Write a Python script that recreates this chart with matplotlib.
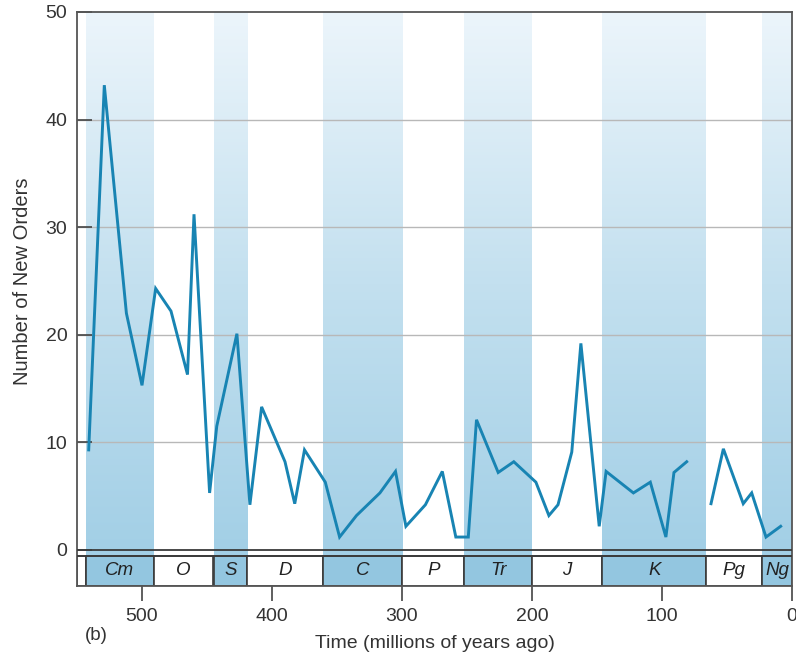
import numpy as np
import matplotlib.pyplot as plt
from matplotlib.colors import LinearSegmentedColormap
from matplotlib.patches import Rectangle

plt.rcParams['font.family'] = ['Liberation Sans', 'DejaVu Sans']

# age (Ma) and number of new orders; nan = gap in the record
AGE = [541, 529, 512, 500, 489.5, 477.7, 465, 460, 448, 442.5, 427, 417, 408,
       390, 382.5, 375, 359, 348, 335, 317, 305, 297, 282, 269, 258.6, 249,
       242.7, 226, 214, 197, 187, 180, 169.4, 162.4, 148.3, 143, 122, 109, 97,
       90.8, 81, np.nan, 62.3, 52.8, 37.5, 31, 20, 8.7]
ORDERS = [9.3, 43.2, 22.0, 15.3, 24.3, 22.2, 16.3, 31.2, 5.3, 11.5, 20.1, 4.2,
          13.3, 8.2, 4.3, 9.3, 6.3, 1.2, 3.2, 5.3, 7.3, 2.2, 4.2, 7.3, 1.2, 1.2,
          12.1, 7.2, 8.2, 6.3, 3.2, 4.2, 9.1, 19.2, 2.2, 7.3, 5.3, 6.3, 1.2,
          7.2, 8.2, np.nan, 4.3, 9.4, 4.3, 5.3, 1.2, 2.2]

PERIODS = ['Cm', 'O', 'S', 'D', 'C', 'P', 'Tr', 'J', 'K', 'Pg', 'Ng']
BOUNDS  = [543, 491, 445, 419, 361, 300, 252, 200, 146, 66, 23, 0]
SHADED  = {'Cm', 'S', 'C', 'Tr', 'K', 'Ng'}

X_OLD     = 550
STRIP_TOP = -0.56
STRIP_BOT = -3.35

LINE_COL  = '#1884b3'
CELL_COL  = '#93c6e0'
EDGE_COL  = '#3a3a3a'

band_cmap = LinearSegmentedColormap.from_list(
    'band', ['#a2cfe6', '#c3e0ef', '#ecf5fb'])
grad = np.linspace(0, 1, 256).reshape(-1, 1)

fig = plt.figure(figsize=(7.96, 6.56), dpi=100)
ax = fig.add_axes([77 / 796, 1 - 586 / 656, 715 / 796, 574 / 656])

# shaded period bands with a vertical fade
for name, old, young in zip(PERIODS, BOUNDS[:-1], BOUNDS[1:]):
    if name in SHADED:
        ax.imshow(grad, extent=(old, young, STRIP_TOP, 50), cmap=band_cmap,
                  aspect='auto', origin='lower', interpolation='bilinear',
                  zorder=0)

ax.set_xlim(X_OLD, 0)
ax.set_ylim(STRIP_BOT, 50)

for v in [10, 20, 30, 40]:
    ax.axhline(v, color='#b8b8b8', lw=1.0, zorder=1)
ax.axhline(0, color=EDGE_COL, lw=1.3, zorder=3)
ax.axhline(STRIP_TOP, color=EDGE_COL, lw=1.3, zorder=3)

# timescale strip
ax.add_patch(Rectangle((X_OLD, STRIP_BOT), BOUNDS[0] - X_OLD, STRIP_TOP - STRIP_BOT,
                       facecolor='white', edgecolor=EDGE_COL, lw=1.2, zorder=2))
for name, old, young in zip(PERIODS, BOUNDS[:-1], BOUNDS[1:]):
    fc = CELL_COL if name in SHADED else 'white'
    ax.add_patch(Rectangle((old, STRIP_BOT), young - old, STRIP_TOP - STRIP_BOT,
                           facecolor=fc, edgecolor=EDGE_COL, lw=1.2, zorder=2))
    ax.text((old + young) / 2, (STRIP_TOP + STRIP_BOT) / 2, name,
            ha='center', va='center', style='italic', fontsize=13.5,
            color='#222222', zorder=4)

ax.plot(AGE, ORDERS, color=LINE_COL, lw=2.1, zorder=5,
        solid_joinstyle='miter')

ax.set_yticks([0, 10, 20, 30, 40, 50])
ax.set_xticks([500, 400, 300, 200, 100, 0])
ax.tick_params(axis='y', direction='in', length=11, width=1.2, color='#444444',
               pad=7, labelsize=14, labelcolor='#333333')
ax.tick_params(axis='x', direction='out', length=11, width=1.2, color='#444444',
               pad=5, labelsize=14, labelcolor='#333333')

for sp in ax.spines.values():
    sp.set_color('#555555')
    sp.set_linewidth(1.3)

# y label centred on the 0-50 data area, not on the strip
ax.set_ylabel('Number of New Orders', fontsize=14.5, color='#333333')
ax.yaxis.set_label_coords(-0.063, (25 - STRIP_BOT) / (50 - STRIP_BOT))
ax.set_xlabel('Time (millions of years ago)', fontsize=14, color='#333333',
              labelpad=7)
fig.text(85 / 796, 1 - 636 / 656, '(b)', fontsize=13.5, color='#333333',
         ha='left', va='center')

fig.savefig('out.png', dpi=100)
